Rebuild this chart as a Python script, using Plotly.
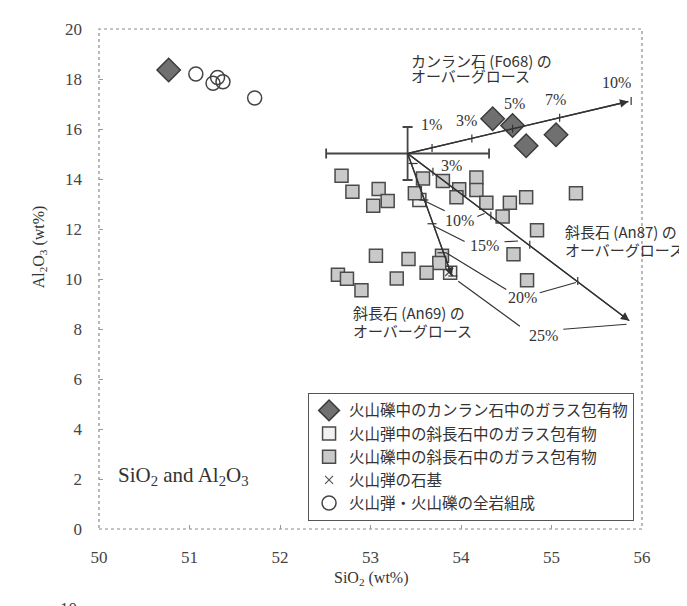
import plotly.graph_objects as go

# ---------------- data ----------------
# glass inclusions in olivine (lapilli)
ol_x = [50.77, 54.35, 54.57, 54.72, 55.05]
ol_y = [18.36, 16.41, 16.14, 15.33, 15.77]

# glass inclusions in plagioclase (bomb) - open squares
pb_x = [53.54, 53.88]
pb_y = [13.16, 10.25]

# glass inclusions in plagioclase (lapilli) - grey squares
pl_x = [52.68, 52.80, 53.09, 53.03, 53.19, 53.58, 53.49, 53.80, 53.98, 53.95,
        54.17, 54.17, 54.28, 54.46, 54.54, 54.72, 54.84, 54.58, 54.73, 53.06,
        53.42, 53.79, 53.76, 53.62, 53.29, 52.64, 52.74, 52.90, 55.27]
pl_y = [14.13, 13.49, 13.60, 12.93, 13.12, 14.02, 13.43, 13.92, 13.59, 13.27,
        14.06, 13.56, 13.05, 12.50, 13.05, 13.27, 11.95, 10.99, 9.95, 10.93,
        10.80, 10.93, 10.64, 10.25, 10.02, 10.17, 10.01, 9.55, 13.43]

# groundmass of bomb
gm_x = [53.87]
gm_y = [10.28]

# whole rock
wr_x = [51.07, 51.31, 51.37, 51.26, 51.72]
wr_y = [18.20, 18.06, 17.89, 17.83, 17.24]

# starting composition and its uncertainty
orig_x, orig_y = 53.41, 15.02
err_x, err_y = 0.90, 1.06

# overgrowth vectors (tips)
ol_tip = (55.85, 17.10)
an87_tip = (55.86, 8.33)
an69_tip = (53.90, 10.12)

# tick marks on the vectors
ol_tick_x = [53.68, 54.12, 54.57, 55.09, 55.88]
ol_tick_y = [15.24, 15.62, 16.01, 16.45, 17.12]
an87_tick_x = [53.69, 54.33, 54.76, 55.29]
an87_tick_y = [14.29, 12.53, 11.37, 9.92]
an69_tick_x = [53.47, 53.59, 53.68, 53.79, 53.91]
an69_tick_y = [14.62, 13.16, 12.21, 11.05, 10.12]

# percentage labels
ol_pct = ["1%", "3%", "5%", "7%", "10%"]
ol_pct_x = [53.67, 54.06, 54.59, 55.04, 55.72]
ol_pct_y = [16.18, 16.34, 17.02, 17.18, 17.87]
pl_pct = ["3%", "10%", "15%", "20%", "25%"]
pl_pct_x = [53.89, 53.98, 54.26, 54.68, 54.91]
pl_pct_y = [14.55, 12.33, 11.33, 9.25, 7.73]

# leader lines (x0, y0, x1, y1)
leaders = [
    (53.56, 13.19, 53.82, 12.73), (54.18, 12.50, 54.26, 12.62),
    (53.71, 12.10, 54.04, 11.50), (54.48, 11.49, 54.63, 11.52),
    (53.84, 11.04, 54.50, 9.58), (54.87, 9.45, 55.27, 9.86),
    (53.97, 9.91, 54.65, 8.11), (55.13, 7.99, 55.83, 8.19),
]

legend_names = [
    "火山礫中のカンラン石中のガラス包有物",
    "火山弾中の斜長石中のガラス包有物",
    "火山礫中の斜長石中のガラス包有物",
    "火山弾の石基",
    "火山弾・火山礫の全岩組成",
]

# ---------------- figure ----------------
SERIF = "Liberation Serif, Times New Roman, serif"
GOTH = "Noto Sans CJK JP, sans-serif"
INK = "#333333"

fig = go.Figure()


def seg_trace(xs, ys, width=1.2, color=INK):
    return go.Scatter(x=xs, y=ys, mode="lines", line=dict(color=color, width=width),
                      hoverinfo="skip", showlegend=False)


# markers
fig.add_trace(go.Scatter(x=ol_x, y=ol_y, mode="markers", name=legend_names[0],
                         marker=dict(symbol="diamond", size=18, color="#707070",
                                     line=dict(color="#3a3a3a", width=1.5))))
fig.add_trace(go.Scatter(x=pb_x, y=pb_y, mode="markers", name=legend_names[1],
                         marker=dict(symbol="square", size=13, color="#f2f2f2",
                                     line=dict(color="#4a4a4a", width=1.5))))
fig.add_trace(go.Scatter(x=pl_x, y=pl_y, mode="markers", name=legend_names[2],
                         marker=dict(symbol="square", size=13, color="#c9c9c9",
                                     line=dict(color="#4a4a4a", width=1.5))))
fig.add_trace(go.Scatter(x=gm_x, y=gm_y, mode="markers", name=legend_names[3],
                         marker=dict(symbol="x-thin", size=8,
                                     line=dict(color="#555555", width=1.2))))
fig.add_trace(go.Scatter(x=wr_x, y=wr_y, mode="markers", name=legend_names[4],
                         marker=dict(symbol="circle-open", size=14, color="#444444",
                                     line=dict(width=1.5))))

# error bars at starting composition
fig.add_trace(go.Scatter(x=[orig_x], y=[orig_y], mode="markers",
                         marker=dict(size=1, color=INK), showlegend=False, hoverinfo="skip",
                         error_x=dict(type="constant", value=err_x, color="#444444",
                                      thickness=1.8, width=5),
                         error_y=dict(type="constant", value=err_y, color="#444444",
                                      thickness=1.8, width=5)))

# vector lines
for tip in (ol_tip, an87_tip, an69_tip):
    fig.add_trace(seg_trace([orig_x, tip[0]], [orig_y, tip[1]], width=1.3))

# tick marks
tx, ty = [], []
for x, y in zip(ol_tick_x, ol_tick_y):
    tx += [x, x, None]; ty += [y - 0.16, y + 0.16, None]
for x, y in zip(an87_tick_x, an87_tick_y):
    tx += [x, x, None]; ty += [y - 0.16, y + 0.16, None]
for x, y in zip(an69_tick_x, an69_tick_y):
    tx += [x - 0.05, x + 0.05, None]; ty += [y, y, None]
fig.add_trace(seg_trace(tx, ty, width=1.2))

# leader lines
lx, ly = [], []
for x0, y0, x1, y1 in leaders:
    lx += [x0, x1, None]; ly += [y0, y1, None]
fig.add_trace(seg_trace(lx, ly, width=1.2))

annotations = []
# arrowheads
for tip in (ol_tip, an87_tip, an69_tip):
    annotations.append(dict(x=tip[0], y=tip[1], ax=orig_x, ay=orig_y,
                            xref="x", yref="y", axref="x", ayref="y", text="",
                            showarrow=True, arrowhead=2, arrowsize=1.3, arrowwidth=1.3,
                            arrowcolor=INK))
for t, x, y in zip(ol_pct, ol_pct_x, ol_pct_y):
    annotations.append(dict(x=x, y=y, text=t, showarrow=False, xref="x", yref="y",
                            font=dict(family=SERIF, size=16, color=INK)))
for t, x, y in zip(pl_pct, pl_pct_x, pl_pct_y):
    annotations.append(dict(x=x, y=y, text=t, showarrow=False, xref="x", yref="y",
                            font=dict(family=SERIF, size=16, color=INK)))

labels = [
    ("カンラン石 (Fo68) の", 53.43, 18.73), ("オーバーグロース", 53.43, 18.13),
    ("斜長石 (An87) の", 55.13, 11.90), ("オーバーグロース", 55.13, 11.17),
    ("斜長石 (An69) の", 52.79, 8.67), ("オーバーグロース", 52.79, 7.95),
]
for t, x, y in labels:
    annotations.append(dict(x=x, y=y, text=t, showarrow=False, xref="x", yref="y",
                            xanchor="left", font=dict(family=GOTH, size=15, color=INK)))

annotations.append(dict(x=50.19, y=2.11, xref="x", yref="y", xanchor="left",
                        text="SiO<sub>2</sub> and Al<sub>2</sub>O<sub>3</sub>",
                        showarrow=False, font=dict(family=SERIF, size=21, color=INK)))
# axis titles
annotations.append(dict(x=0.5, y=-0.121, xref="paper", yref="paper",
                        text="SiO<sub>2</sub> (wt%)", showarrow=False,
                        font=dict(family=SERIF, size=16, color=INK)))
annotations.append(dict(x=-0.1315, y=0.5636, xref="paper", yref="paper", textangle=-90,
                        text="Al<sub>2</sub>O<sub>3</sub> (wt%)", showarrow=False,
                        font=dict(family=SERIF, size=16, color=INK)))
# next panel's tick label, cut off at the page bottom
annotations.append(dict(x=-0.0368, y=-0.181, xref="paper", yref="paper", xanchor="right",
                        text="10", showarrow=False,
                        font=dict(family=SERIF, size=17, color="#444444")))

fig.update_layout(
    width=687, height=606,
    margin=dict(l=91, r=53, t=18, b=85),
    paper_bgcolor="white", plot_bgcolor="white",
    annotations=annotations,
    shapes=[dict(type="rect", xref="paper", yref="paper", x0=0, y0=0, x1=1, y1=1,
                 line=dict(color="#8a8a8a", width=1.2, dash="dot"), layer="below")],
    showlegend=True,
    legend=dict(x=0.385, y=0.2724, xanchor="left", yanchor="top",
                bordercolor="#555555", borderwidth=1, bgcolor="white",
                font=dict(family=GOTH, size=15.5, color=INK),
                itemwidth=30, tracegroupgap=0),
)
fig.update_xaxes(range=[50, 56], dtick=1, tick0=50, ticks="inside", ticklen=4,
                 tickcolor="#999999", showline=False,
                 showgrid=False, zeroline=False, ticklabelstandoff=16,
                 tickfont=dict(family=SERIF, size=17, color="#444444"))
fig.update_yaxes(range=[0, 20], dtick=2, tick0=0, ticks="inside", ticklen=4,
                 tickcolor="#999999", showline=False,
                 showgrid=False, zeroline=False, ticklabelstandoff=16,
                 tickfont=dict(family=SERIF, size=17, color="#444444"))

fig.write_html("out.html")
